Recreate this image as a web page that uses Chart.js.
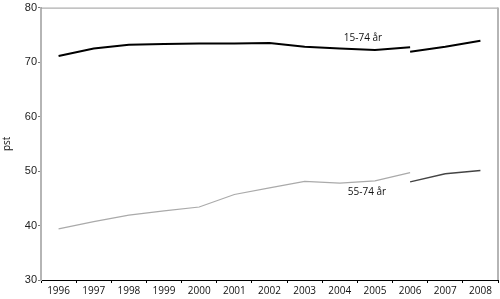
<!DOCTYPE html>
<html>
<head>
<meta charset="utf-8">
<script src="https://cdn.jsdelivr.net/npm/chart.js@4"></script>
<style>
  html, body { margin: 0; padding: 0; background: #fff; }
  #wrap { width: 500px; height: 299px; }
</style>
</head>
<body>
<div id="wrap"><canvas id="chart"></canvas></div>
<script>
// Values (per cent)
const years = ['1996', '1997', '1998', '1999', '2000', '2001', '2002', '2003', '2004', '2005', '2006', '2007', '2008'];
const age1574Old = [71.1, 72.5, 73.2, 73.3, 73.4, 73.4, 73.5, 72.8, 72.5, 72.2, 72.7]; // 1996-2006
const age1574New = [71.9, 72.8, 73.9]; // 2006-2008
const age5574Old = [39.4, 40.7, 41.9, 42.7, 43.4, 45.7, 46.9, 48.1, 47.8, 48.2, 49.7]; // 1996-2006
const age5574New = [48.0, 49.5, 50.1]; // 2006-2008
const yTicks = [30, 40, 50, 60, 70, 80];

const NEW_START = years.indexOf('2006');
function oldSeries(vals) {
    return years.map((y, i) => i < vals.length ? vals[i] : null);
}
function newSeries(vals) {
    return years.map((y, i) => i >= NEW_START ? vals[i - NEW_START] : null);
}

const labelFont = "'Open Sans', 'Noto Sans', sans-serif";

// frame on top and right plus the series labels
const framePlugin = {
    id: 'frame',
    afterDraw(chart) {
        const ctx = chart.ctx;
        const a = chart.chartArea;
        const x = chart.scales.x;
        const y = chart.scales.y;
        ctx.save();
        ctx.strokeStyle = '#9a9a9a';
        ctx.lineWidth = 1;
        ctx.beginPath();
        ctx.moveTo(a.left, a.top + 0.5);
        ctx.lineTo(a.right, a.top + 0.5);
        ctx.stroke();
        ctx.strokeStyle = '#b5b5b5';
        ctx.lineWidth = 2;
        ctx.beginPath();
        ctx.moveTo(a.right, a.top);
        ctx.lineTo(a.right, a.bottom);
        ctx.stroke();

        ctx.fillStyle = '#111';
        ctx.font = '10px ' + labelFont;
        ctx.textAlign = 'center';
        ctx.textBaseline = 'middle';
        ctx.fillText('15-74 år', x.getPixelForValue(9) - 12, y.getPixelForValue(74.3));
        ctx.fillText('55-74 år', x.getPixelForValue(9) - 8, y.getPixelForValue(46.2));
        ctx.restore();
    }
};

new Chart(document.getElementById('chart').getContext('2d'), {
    type: 'line',
    data: {
        labels: years,
        datasets: [
            { label: '15-74 år', data: oldSeries(age1574Old), borderColor: '#000', borderWidth: 2 },
            { label: '15-74 år ny', data: newSeries(age1574New), borderColor: '#000', borderWidth: 2 },
            { label: '55-74 år', data: oldSeries(age5574Old), borderColor: '#aaaaaa', borderWidth: 1.2 },
            { label: '55-74 år ny', data: newSeries(age5574New), borderColor: '#444', borderWidth: 1.4 }
        ]
    },
    options: {
        responsive: true,
        maintainAspectRatio: false,
        animation: false,
        spanGaps: false,
        elements: {
            point: { radius: 0 },
            line: { tension: 0, borderCapStyle: 'butt' }
        },
        layout: { padding: { top: 6, right: 2, left: 0, bottom: 0 } },
        plugins: {
            legend: { display: false },
            tooltip: { enabled: false }
        },
        scales: {
            x: {
                type: 'category',
                offset: true,
                grid: {
                    offset: true,
                    drawOnChartArea: false,
                    drawTicks: true,
                    tickLength: 3,
                    color: '#000'
                },
                border: { color: '#000', width: 1 },
                ticks: {
                    color: '#111',
                    padding: 2,
                    maxRotation: 0,
                    autoSkip: false,
                    font: { family: labelFont, size: 10 }
                },
                afterFit(scale) { scale.height = 19; }
            },
            y: {
                min: 30,
                max: 80,
                afterBuildTicks(scale) {
                    scale.ticks = yTicks.map(v => ({ value: v }));
                },
                grid: {
                    drawOnChartArea: false,
                    drawTicks: true,
                    tickLength: 3,
                    color: '#777'
                },
                border: { color: '#b5b5b5', width: 2 },
                ticks: {
                    color: '#222',
                    padding: 1,
                    font: { family: "'Liberation Sans', Arial, sans-serif", size: 11 }
                },
                title: {
                    display: true,
                    text: 'pst',
                    color: '#111',
                    padding: 1,
                    font: { family: labelFont, size: 10 }
                },
                afterFit(scale) { scale.width = 41; }
            }
        }
    },
    plugins: [framePlugin]
});
</script>
</body>
</html>
